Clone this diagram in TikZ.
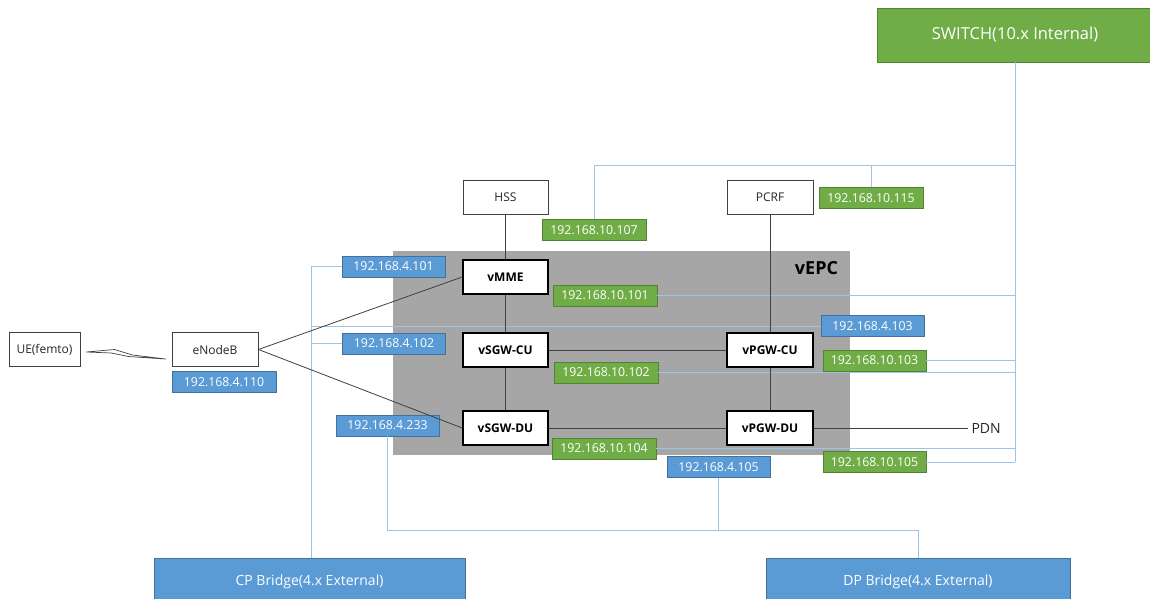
\documentclass[tikz,border=0pt]{standalone}
\usepackage{fontspec}
\setmainfont{Open Sans}
\definecolor{ipblue}{HTML}{5B9BD5}
\definecolor{ipblueedge}{HTML}{41719C}
\definecolor{ipgreen}{HTML}{70AD47}
\definecolor{ipgreenedge}{HTML}{548235}
\definecolor{epcgray}{HTML}{A6A6A6}
\definecolor{wire}{HTML}{9DC3E6}
\definecolor{link}{HTML}{404040}
\definecolor{ink}{HTML}{262626}

\begin{document}
\begin{tikzpicture}[x=1pt,y=-1pt,
  fs/.style={font=\fontsize{#1}{#1}\selectfont},
  termbox/.style={draw=link, line width=0.9pt, fill=white, text=ink,
    minimum width=86pt, minimum height=34pt, inner sep=0pt, fs=12},
  corebox/.style={draw=black, line width=1.6pt, fill=white, text=black,
    minimum width=85pt, minimum height=34pt, inner sep=0pt,
    font=\fontsize{12}{12}\selectfont\bfseries},
  bluetag/.style={fill=ipblue, draw=ipblueedge, line width=0.6pt, text=white,
    minimum width=103pt, minimum height=21pt, inner sep=0pt, fs=12.3},
  greentag/.style={fill=ipgreen, draw=ipgreenedge, line width=0.6pt, text=white,
    minimum width=104pt, minimum height=21pt, inner sep=0pt, fs=12.3},
  lanline/.style={draw=wire, line width=0.9pt},
  sigline/.style={draw=link, line width=0.8pt},
]
\useasboundingbox (0,0) rectangle (1150,598);

% vEPC container
\fill[epcgray] (393,251) rectangle (850,455);
\node[font=\fontsize{18}{18}\selectfont\bfseries, text=black] (epclabel) at (816.5,268) {vEPC};

% switches and bridges
\node[fill=ipgreen, draw=ipgreenedge, line width=0.6pt, text=white, fs=16.5,
  minimum width=276pt, minimum height=54pt, inner sep=0pt] (sw) at (1015,35) {SWITCH(10.x Internal)};
\node[fill=ipblue, draw=ipblueedge, line width=0.6pt, text=white, fs=14,
  minimum width=311pt, minimum height=48pt, inner sep=0pt] (cp) at (309.5,582) {CP Bridge(4.x External)};
\node[fill=ipblue, draw=ipblueedge, line width=0.6pt, text=white, fs=14,
  minimum width=304pt, minimum height=48pt, inner sep=0pt] (dp) at (918,582) {DP Bridge(4.x External)};

% terminals and external functions
\node[termbox, minimum width=71pt] (ue) at (44.5,349.5) {UE(femto)};
\node[termbox] (enb) at (215,349.5) {eNodeB};
\node[termbox, minimum width=85pt] (hss) at (505.5,197) {HSS};
\node[termbox] (pcrf) at (770,197) {PCRF};

% core functions
\node[corebox] (mme) at (505.5,277) {vMME};
\node[corebox] (sgwc) at (505.5,350) {vSGW-CU};
\node[corebox] (sgwd) at (505.5,428) {vSGW-DU};
\node[corebox, minimum width=86pt] (pgwc) at (770,350) {vPGW-CU};
\node[corebox, minimum width=86pt] (pgwd) at (770,428) {vPGW-DU};
\node[fs=14, text=ink, anchor=west] (pdn) at (968,428) {PDN};

% external (4.x) addresses
\node[bluetag] (ip101) at (393.5,266.5) {192.168.4.101};
\node[bluetag] (ip102) at (394,343.5) {192.168.4.102};
\node[bluetag] (ip233) at (387.5,425.5) {192.168.4.233};
\node[bluetag, minimum width=104pt] (ip110) at (224,382) {192.168.4.110};
\node[bluetag] (ip103) at (872.5,326) {192.168.4.103};
\node[bluetag] (ip105) at (718.5,467) {192.168.4.105};

% internal (10.x) addresses
\node[greentag] (g107) at (594,230) {192.168.10.107};
\node[greentag] (g115) at (871,198) {192.168.10.115};
\node[greentag] (g101) at (605,295.5) {192.168.10.101};
\node[greentag] (g102) at (606,372.5) {192.168.10.102};
\node[greentag] (g104) at (604,448.5) {192.168.10.104};
\node[greentag, minimum width=103pt] (g103) at (874.5,360.5) {192.168.10.103};
\node[greentag, minimum width=103pt] (g105) at (874.5,462) {192.168.10.105};

% bus routing points
\coordinate (cpx) at (311,0);
\coordinate (dpy) at (0,530);
\coordinate (topy) at (0,165);

% internal network wiring
\draw[lanline] (g107.north) -- (g107.north |- topy) -- (sw.south |- topy);
\draw[lanline] (g115.north) -- (g115.north |- topy);
\draw[lanline] (sw.south) -- (sw.south |- g105.east);
\draw[lanline] (g101.east) -- (g101.east -| sw.south);
\draw[lanline] (g102.east) -- (g102.east -| sw.south);
\draw[lanline] (g103.east) -- (g103.east -| sw.south);
\draw[lanline] (g104.east) -- (g104.east -| sw.south);
\draw[lanline] (g105.east) -- (g105.east -| sw.south);

% external control-plane wiring
\draw[lanline] (ip101.west) -- (ip101.west -| cpx) -- (cpx |- cp.north);
\draw[lanline] (ip102.west) -- (ip102.west -| cpx);
\draw[lanline] (ip103.west) -- (ip103.west -| cpx);

% external data-plane wiring
\draw[lanline] (ip233.south) -- (ip233.south |- dpy) -- (dp.north |- dpy) -- (dp.north);
\draw[lanline] (ip105.south) -- (ip105.south |- dpy);

% signalling links
\draw[sigline] (hss) -- (mme);
\draw[sigline] (mme) -- (sgwc);
\draw[sigline] (sgwc) -- (sgwd);
\draw[sigline] (pcrf) -- (pgwc);
\draw[sigline] (pgwc) -- (pgwd);
\draw[sigline] (sgwc) -- (pgwc);
\draw[sigline] (sgwd) -- (pgwd);
\draw[sigline] (pgwd) -- (pdn.west);
\draw[sigline] (enb.east) -- (mme.west);
\draw[sigline] (enb.east) -- (sgwd.west);

% radio link
\draw[draw=link, line width=0.7pt, fill=white, line join=round]
  ([xshift=6pt,yshift=-2.5pt]ue.east) -- ++(28,-2.5) -- ++(18,5.5) -- ++(33,4)
  -- ++(-37,-2.5) -- ++(-17,-3.5) -- cycle;
\end{tikzpicture}
\end{document}
